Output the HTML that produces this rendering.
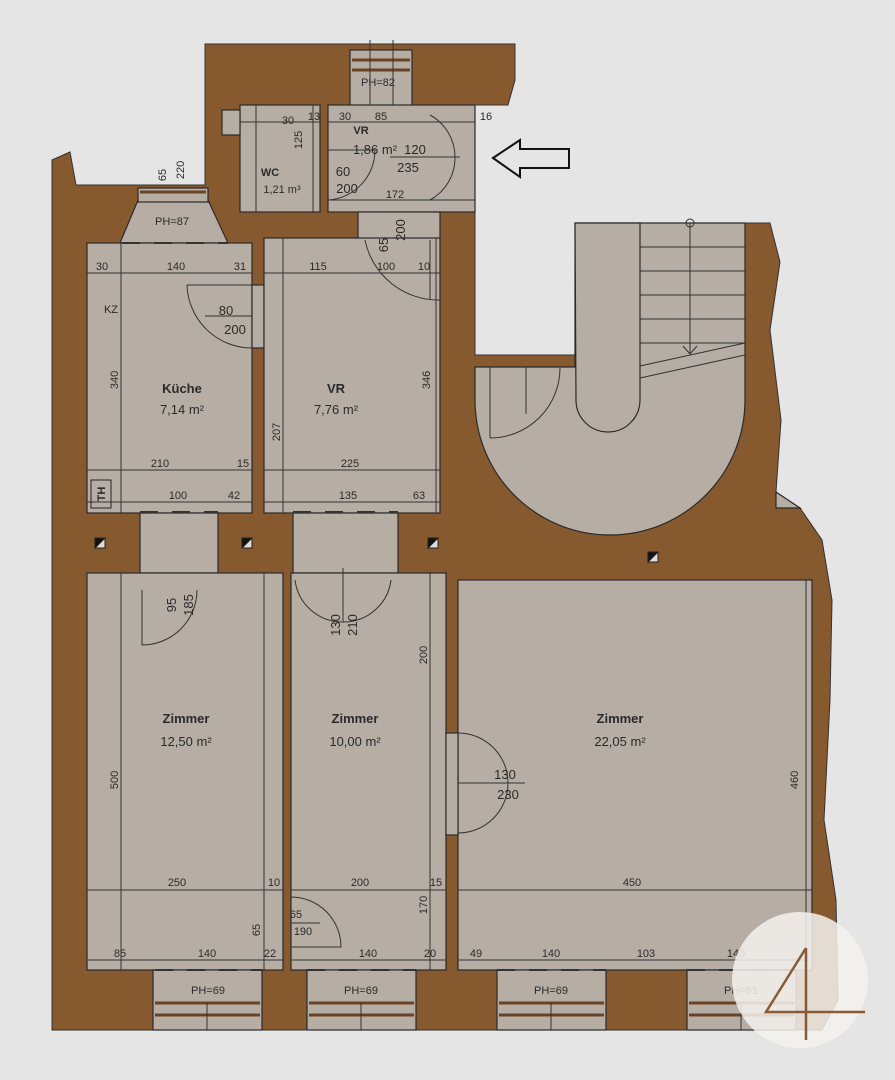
<!DOCTYPE html>
<html><head><meta charset="utf-8"><style>
html,body{margin:0;padding:0;background:#e5e5e5}
svg{display:block}
text{font-family:"Liberation Sans",sans-serif;fill:#2a2a2a}
.d{font-size:11px}
.t{font-size:13px;font-weight:bold}
.a{font-size:13px}
</style></head><body>
<svg width="895" height="1080" viewBox="0 0 895 1080" xmlns="http://www.w3.org/2000/svg">
<rect width="895" height="1080" fill="#e5e5e5"/>
<!-- brown walls -->
<path d="M52,160 L70,152 L76,185 L205,185 L205,44 L515,44 L515,80 L508,105 L475,105 L475,355 L575,355 L575,223 L770,223 L780,262 L770,330 L781,420 L776,492 L800,508 L822,540 L832,600 L830,700 L824,820 L836,900 L838,1000 L822,1030 L52,1030 Z" fill="#87592f" stroke="#333" stroke-width="1"/>
<g fill="#b6aea5" stroke="#2a2a2a" stroke-width="1.2">
<!-- top area -->
<rect x="350" y="50" width="62" height="56"/>
<rect x="240" y="105" width="80" height="107"/>
<rect x="328" y="105" width="147" height="107"/>
<rect x="358" y="212" width="82" height="28"/>
<rect x="222" y="110" width="18" height="25"/>
<path d="M120,243 L138,200 L208,200 L228,243 Z"/>
<rect x="138" y="188" width="70" height="14"/>
<!-- kitchen / VR -->
<rect x="87" y="243" width="165" height="270"/>
<rect x="252" y="285" width="12" height="63"/>
<rect x="264" y="238" width="176" height="275"/>
<rect x="140" y="513" width="78" height="60"/>
<rect x="293" y="513" width="105" height="60"/>
<!-- zimmer -->
<rect x="87" y="573" width="196" height="397"/>
<rect x="291" y="573" width="155" height="397"/>
<rect x="458" y="580" width="354" height="390"/>
<rect x="446" y="733" width="12" height="102"/>
<!-- windows -->
<rect x="153" y="970" width="109" height="60"/>
<rect x="307" y="970" width="109" height="60"/>
<rect x="497" y="970" width="109" height="60"/>
<rect x="687" y="970" width="109" height="60"/>
<!-- stair -->
<path d="M575,223 L745,223 L745,400 A135,135 0 0 1 475,400 L475,367 L575,367 Z"/>
<path d="M575,223 L640,223 L640,400 A32,32 0 0 1 576,400 Z"/>
<path d="M776,492 L800,508 L776,508 Z"/>
</g>
<!-- window sills -->
<g stroke="#6a4325" stroke-width="3">
<line x1="155" y1="1003" x2="260" y2="1003"/><line x1="155" y1="1015" x2="260" y2="1015"/>
<line x1="309" y1="1003" x2="414" y2="1003"/><line x1="309" y1="1015" x2="414" y2="1015"/>
<line x1="499" y1="1003" x2="604" y2="1003"/><line x1="499" y1="1015" x2="604" y2="1015"/>
<line x1="689" y1="1003" x2="794" y2="1003"/><line x1="689" y1="1015" x2="794" y2="1015"/>
<line x1="352" y1="60" x2="410" y2="60"/><line x1="352" y1="70" x2="410" y2="70"/>
<line x1="140" y1="192" x2="206" y2="192"/>
</g>
<g stroke="#333" stroke-width="1" fill="none">
<line x1="207" y1="1003" x2="207" y2="1030"/><line x1="361" y1="1003" x2="361" y2="1030"/><line x1="551" y1="1003" x2="551" y2="1030"/><line x1="741" y1="1003" x2="741" y2="1030"/>
<!-- stair steps -->
<line x1="640" y1="247" x2="745" y2="247"/><line x1="640" y1="271" x2="745" y2="271"/><line x1="640" y1="295" x2="745" y2="295"/><line x1="640" y1="319" x2="745" y2="319"/><line x1="640" y1="343" x2="745" y2="343"/>
<line x1="640" y1="366" x2="745" y2="343"/><line x1="640" y1="378" x2="745" y2="355"/>
<line x1="690" y1="223" x2="690" y2="354"/><circle cx="690" cy="223" r="4"/>
<path d="M683,346 L690,354 L697,346"/>
<!-- stair door -->
<line x1="490" y1="367" x2="490" y2="438"/><path d="M490,438 A70,70 0 0 0 560,367"/><line x1="526" y1="367" x2="526" y2="414"/>
<!-- doors -->
<path d="M187,285 A65,65 0 0 0 252,348"/><line x1="187" y1="285" x2="252" y2="285"/><line x1="205" y1="316" x2="252" y2="316"/>
<path d="M365,240 A75,75 0 0 0 440,300"/><line x1="430" y1="240" x2="430" y2="300"/>
<path d="M328,150 L375,150 A50,50 0 0 1 328,200"/>
<path d="M430,115 A48,48 0 0 1 455,157 A48,48 0 0 1 430,200"/><line x1="390" y1="157" x2="460" y2="157"/>
<path d="M142,590 L142,645 A55,55 0 0 0 197,590"/>
<path d="M295,580 A48,48 0 0 0 343,622 A48,48 0 0 0 391,580"/><line x1="343" y1="568" x2="343" y2="622"/>
<path d="M458,733 A50,50 0 0 1 508,783 A50,50 0 0 1 458,833"/><line x1="458" y1="783" x2="525" y2="783"/>
<path d="M291,897 A50,50 0 0 1 341,947 L291,947"/><line x1="291" y1="923" x2="320" y2="923"/>
<!-- dimension lines -->
<line x1="87" y1="273" x2="252" y2="273"/><line x1="264" y1="273" x2="440" y2="273"/>
<line x1="87" y1="470" x2="252" y2="470"/><line x1="264" y1="470" x2="440" y2="470"/>
<line x1="87" y1="502" x2="252" y2="502"/><line x1="264" y1="502" x2="440" y2="502"/>
<line x1="121" y1="243" x2="121" y2="513"/><line x1="283" y1="238" x2="283" y2="513"/><line x1="436" y1="238" x2="436" y2="513"/>
<line x1="87" y1="890" x2="283" y2="890"/><line x1="291" y1="890" x2="446" y2="890"/><line x1="458" y1="890" x2="812" y2="890"/>
<line x1="87" y1="960" x2="283" y2="960"/><line x1="291" y1="960" x2="446" y2="960"/><line x1="458" y1="960" x2="812" y2="960"/>
<line x1="121" y1="573" x2="121" y2="970"/><line x1="264" y1="573" x2="264" y2="970"/>
<line x1="430" y1="573" x2="430" y2="970"/><line x1="806" y1="580" x2="806" y2="970"/>
<line x1="328" y1="122" x2="475" y2="122"/><line x1="328" y1="200" x2="475" y2="200"/><line x1="240" y1="122" x2="320" y2="122"/>
<line x1="256" y1="105" x2="256" y2="212"/><line x1="313" y1="105" x2="313" y2="212"/>
<line x1="370" y1="40" x2="370" y2="105"/><line x1="393" y1="40" x2="393" y2="105"/>
</g>
<g stroke="#333" stroke-width="2" stroke-dasharray="18,14">
<line x1="140" y1="512" x2="218" y2="512"/><line x1="293" y1="512" x2="398" y2="512"/>
<line x1="155" y1="970" x2="262" y2="970"/><line x1="307" y1="970" x2="416" y2="970"/><line x1="497" y1="970" x2="606" y2="970"/><line x1="687" y1="970" x2="796" y2="970"/>
<line x1="122" y1="243" x2="228" y2="243"/>
</g>
<!-- small squares -->
<g stroke="#222" stroke-width="1"><rect x="95" y="538" width="10" height="10" fill="#ddd"/><rect x="242" y="538" width="10" height="10" fill="#ddd"/><rect x="428" y="538" width="10" height="10" fill="#ddd"/><rect x="648" y="552" width="10" height="10" fill="#ddd"/>
<path d="M95,538 h10 L95,548 Z M242,538 h10 L242,548 Z M428,538 h10 L428,548 Z M648,552 h10 L648,562 Z" fill="#111"/></g>
<rect x="91" y="480" width="20" height="28" fill="none" stroke="#222"/>
<text x="101" y="494" class="d" font-weight="bold" transform="rotate(-90 101 494)" text-anchor="middle" dy="4">TH</text>
<!-- arrow -->
<path d="M493,158 L520,140 L520,149 L569,149 L569,168 L520,168 L520,177 Z" fill="#e5e5e5" stroke="#111" stroke-width="2"/>
<!-- labels -->
<g text-anchor="middle">
<text x="182" y="393" class="t">Küche</text><text x="182" y="414" class="a">7,14 m²</text>
<text x="336" y="393" class="t">VR</text><text x="336" y="414" class="a">7,76 m²</text>
<text x="186" y="723" class="t">Zimmer</text><text x="186" y="746" class="a">12,50 m²</text>
<text x="355" y="723" class="t">Zimmer</text><text x="355" y="746" class="a">10,00 m²</text>
<text x="620" y="723" class="t">Zimmer</text><text x="620" y="746" class="a">22,05 m²</text>
<text x="270" y="176" font-size="11" font-weight="bold">WC</text><text x="282" y="193" class="d">1,21 m³</text>
<text x="361" y="134" font-size="11" font-weight="bold">VR</text><text x="375" y="154" class="a">1,86 m²</text>
<text x="415" y="154" class="a">120</text><text x="408" y="172" class="a">235</text>
<text x="343" y="176" class="a">60</text><text x="347" y="193" class="a">200</text>
<text x="395" y="198" class="d">172</text>
<text x="378" y="86" class="d">PH=82</text><text x="172" y="225" class="d">PH=87</text>
<text x="226" y="315" class="a">80</text><text x="235" y="334" class="a">200</text>
<text x="111" y="313" class="d" fill="#777">KZ</text>
<text x="102" y="270" class="d">30</text><text x="176" y="270" class="d">140</text><text x="240" y="270" class="d">31</text><text x="318" y="270" class="d">115</text><text x="386" y="270" class="d">100</text><text x="424" y="270" class="d">10</text>
<text x="160" y="467" class="d">210</text><text x="243" y="467" class="d">15</text><text x="350" y="467" class="d">225</text>
<text x="178" y="499" class="d">100</text><text x="234" y="499" class="d">42</text><text x="348" y="499" class="d">135</text><text x="419" y="499" class="d">63</text>
<text x="177" y="886" class="d">250</text><text x="274" y="886" class="d">10</text><text x="360" y="886" class="d">200</text><text x="436" y="886" class="d">15</text><text x="632" y="886" class="d">450</text>
<text x="120" y="957" class="d">85</text><text x="207" y="957" class="d">140</text><text x="270" y="957" class="d">22</text><text x="368" y="957" class="d">140</text><text x="430" y="957" class="d">20</text>
<text x="476" y="957" class="d">49</text><text x="551" y="957" class="d">140</text><text x="646" y="957" class="d">103</text><text x="736" y="957" class="d">140</text>
<text x="208" y="994" class="d">PH=69</text><text x="361" y="994" class="d">PH=69</text><text x="551" y="994" class="d">PH=69</text><text x="741" y="994" class="d">PH=81</text>
<text x="505" y="779" class="a">130</text><text x="508" y="799" class="a">230</text>
<text x="296" y="918" class="d">65</text><text x="303" y="935" class="d">190</text>
<text x="288" y="124" class="d">30</text><text x="345" y="120" class="d">30</text><text x="381" y="120" class="d">85</text><text x="486" y="120" class="d">16</text><text x="314" y="120" class="d">13</text>
</g>
<g class="d" text-anchor="middle">
<text transform="translate(118,380) rotate(-90)" class="d">340</text>
<text transform="translate(280,432) rotate(-90)" class="d">207</text>
<text transform="translate(430,380) rotate(-90)" class="d">346</text>
<text transform="translate(118,780) rotate(-90)" class="d">500</text>
<text transform="translate(427,655) rotate(-90)" class="d">200</text>
<text transform="translate(427,905) rotate(-90)" class="d">170</text>
<text transform="translate(798,780) rotate(-90)" class="d">460</text>
<text transform="translate(176,605) rotate(-90)" class="a">95</text>
<text transform="translate(193,605) rotate(-90)" class="a">185</text>
<text transform="translate(340,625) rotate(-90)" class="a">130</text>
<text transform="translate(357,625) rotate(-90)" class="a">210</text>
<text transform="translate(388,245) rotate(-90)" class="a">65</text>
<text transform="translate(405,230) rotate(-90)" class="a">200</text>
<text transform="translate(166,175) rotate(-90)" class="d">65</text>
<text transform="translate(184,170) rotate(-90)" class="d">220</text>
<text transform="translate(302,140) rotate(-90)" class="d">125</text>
<text transform="translate(260,930) rotate(-90)" class="d">65</text>
</g>
<!-- logo -->
<circle cx="800" cy="980" r="68" fill="#f4f2ef" fill-opacity="0.85"/>
<path d="M806,948 L766,1012 L865,1012 M806,948 L806,1040" fill="none" stroke="#8a5a33" stroke-width="2.5"/>
</svg>
</body></html>
